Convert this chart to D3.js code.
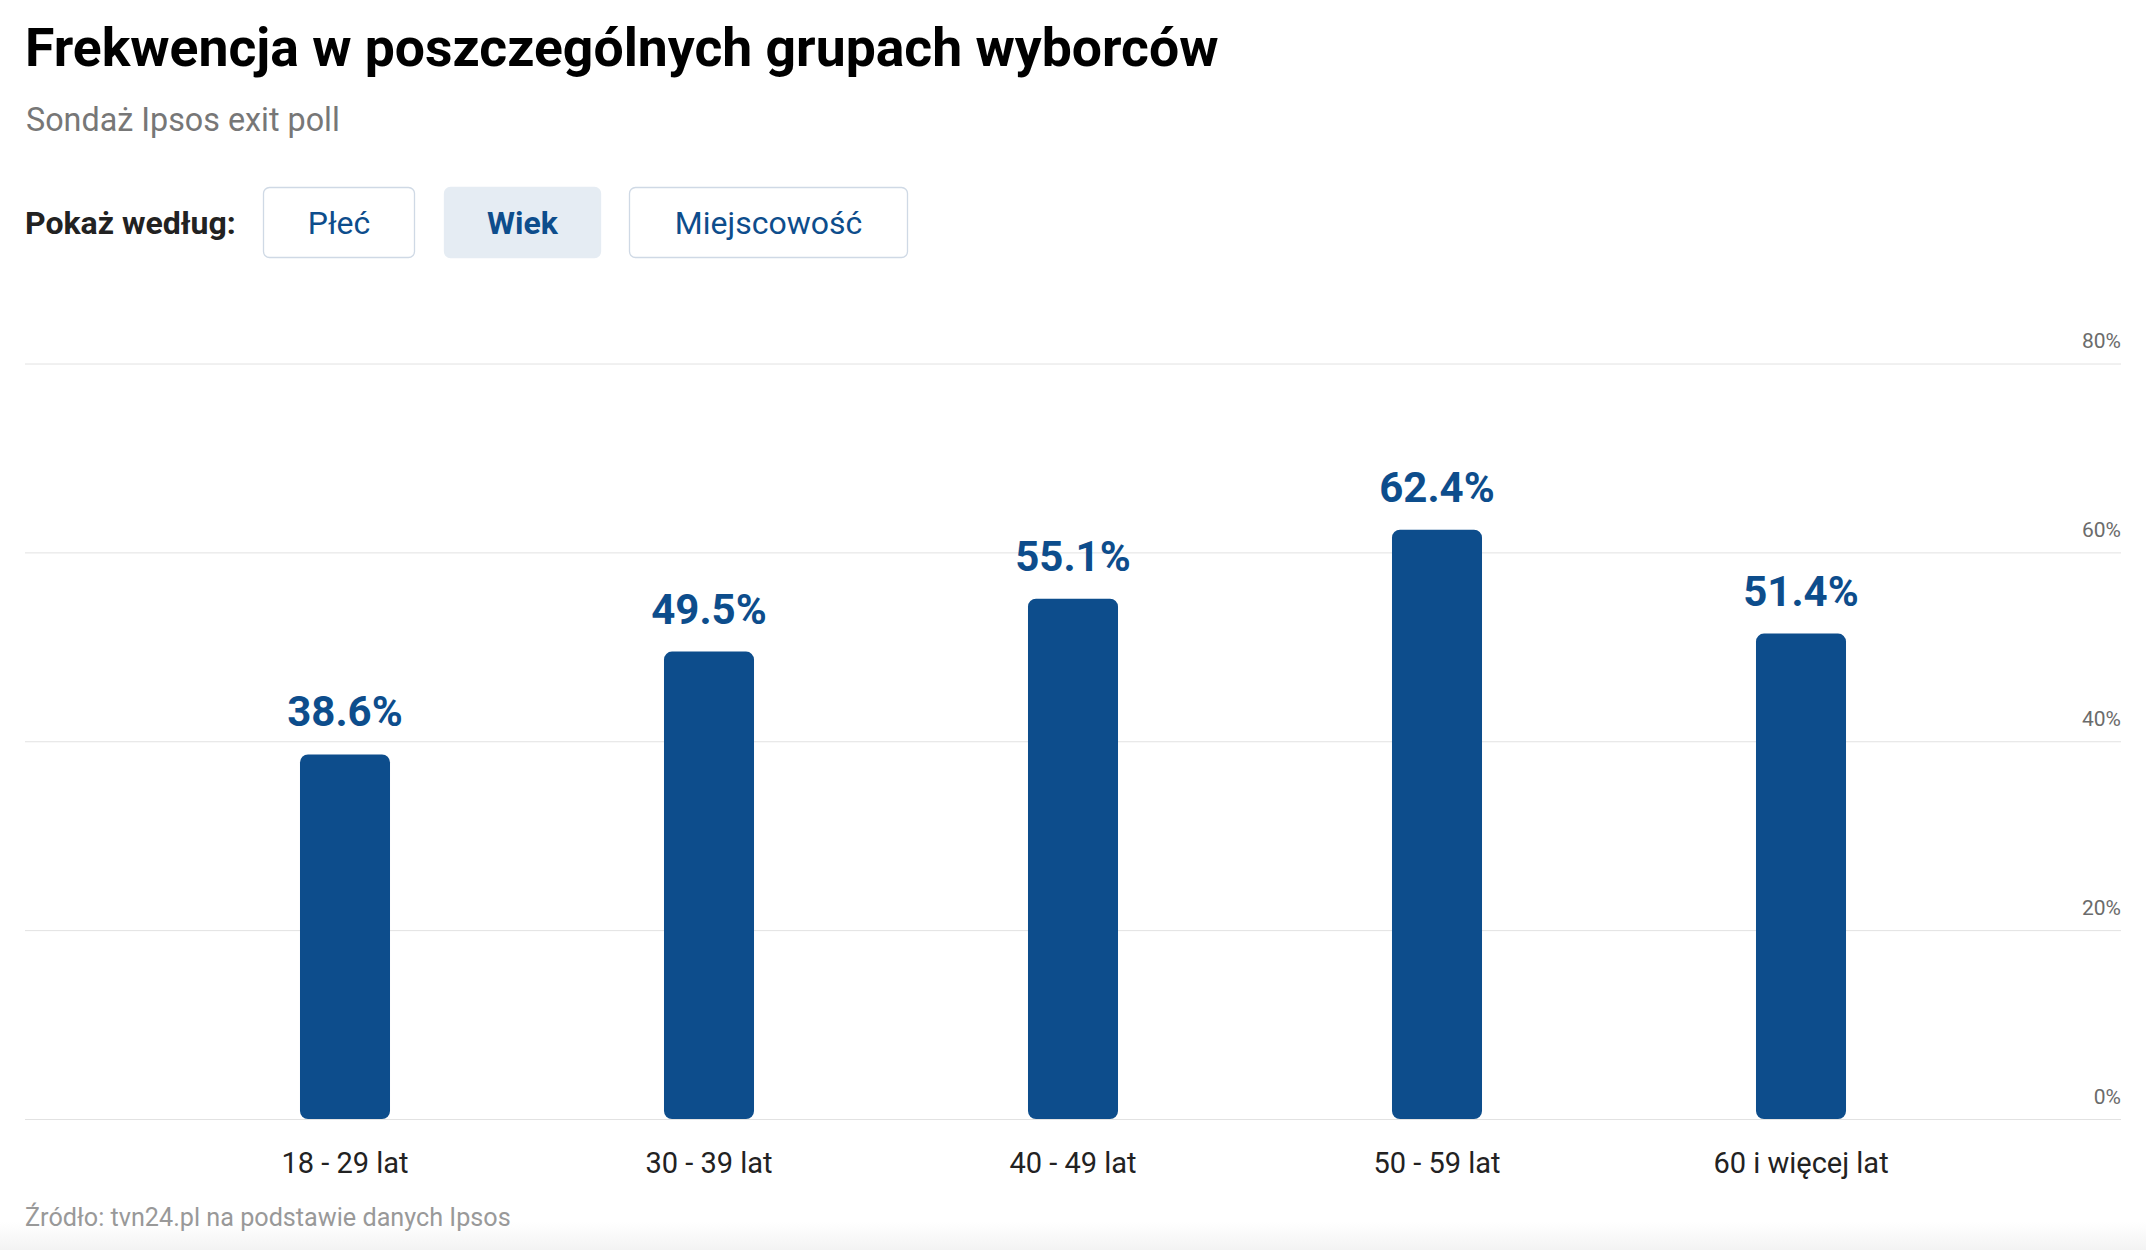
<!DOCTYPE html>
<html>
<head>
<meta charset="utf-8">
<script src="https://cdn.jsdelivr.net/npm/d3@7"></script>
<style>
  html, body { margin: 0; padding: 0; background: #fff; }
  svg { display: block; }
  text { font-family: Roboto, "Noto Sans", sans-serif; }
</style>
</head>
<body>
<script>
const title = "Frekwencja w poszczególnych grupach wyborców";
const subtitle = "Sondaż Ipsos exit poll";
const source = "Źródło: tvn24.pl na podstawie danych Ipsos";
const filterLabel = "Pokaż według:";
const buttons = ["Płeć", "Wiek", "Miejscowość"];
const activeButton = "Wiek";
const categories = ["18 - 29 lat", "30 - 39 lat", "40 - 49 lat", "50 - 59 lat", "60 i więcej lat"];
const values = [38.6, 49.5, 55.1, 62.4, 51.4];
const yTicks = [0, 20, 40, 60, 80];

const W = 2146, H = 1250;
const blue = "#0d4d8c";

const svg = d3.select("body").append("svg").attr("width", W).attr("height", H);

// bottom light gradient
const defs = svg.append("defs");
const grad = defs.append("linearGradient").attr("id", "bottomGrad").attr("x1", 0).attr("y1", 0).attr("x2", 0).attr("y2", 1);
grad.append("stop").attr("offset", "0%").attr("stop-color", "#ffffff");
grad.append("stop").attr("offset", "100%").attr("stop-color", "#f3f3f3");
svg.append("rect").attr("x", 0).attr("y", 1222).attr("width", W).attr("height", H - 1222).attr("fill", "url(#bottomGrad)");

// title & subtitle
svg.append("text").attr("x", 25).attr("y", 66).attr("font-size", 53.5).attr("font-weight", 700).attr("fill", "#000").text(title);
svg.append("text").attr("x", 26).attr("y", 131).attr("font-size", 32.3).attr("fill", "#777").text(subtitle);

// filter buttons
svg.append("text").attr("x", 25).attr("y", 234).attr("font-size", 32).attr("font-weight", 700).attr("fill", "#222").text(filterLabel);
const btnX = [263.5, 444.5, 629.5];
const btnW = [151, 156, 278];
const bg = svg.append("g");
buttons.forEach((b, i) => {
  const active = b === activeButton;
  bg.append("rect").attr("x", btnX[i]).attr("y", 187.5).attr("width", btnW[i]).attr("height", 70)
    .attr("rx", 6).attr("fill", active ? "#e5ecf3" : "#fff")
    .attr("stroke", active ? "#e5ecf3" : "#cfd9e5").attr("stroke-width", 1.3);
  bg.append("text").attr("x", btnX[i] + btnW[i] / 2).attr("y", 234).attr("text-anchor", "middle")
    .attr("font-size", 32).attr("font-weight", active ? 700 : 400).attr("fill", blue).text(b);
});

// scales
const x = d3.scaleBand().domain(categories).range([163, 1983]).paddingInner(0.7527).paddingOuter(0.37635);
const y = d3.scaleLinear().domain([0, 80]).range([1119, 363.5]);

// y grid + labels
const yAxis = d3.axisLeft(y).tickValues(yTicks).tickSize(2096).tickFormat(d => d + "%");
const ga = svg.append("g").attr("transform", "translate(2121,0)").call(yAxis);
ga.select(".domain").remove();
ga.selectAll(".tick line").attr("stroke", "#e2e2e2").attr("stroke-width", 1);
ga.selectAll(".tick text").attr("x", 0).attr("dy", -16).attr("text-anchor", "end")
  .attr("font-size", 21).attr("fill", "#6b6b6b").attr("font-family", "'Open Sans', sans-serif");

// bars
svg.append("g").selectAll("rect").data(values).join("rect")
  .attr("x", (d, i) => x(categories[i]))
  .attr("y", d => y(d))
  .attr("width", x.bandwidth())
  .attr("height", d => y(0) - y(d))
  .attr("rx", 8)
  .attr("fill", blue);

// value labels
svg.append("g").selectAll("text").data(values).join("text")
  .attr("x", (d, i) => x(categories[i]) + x.bandwidth() / 2)
  .attr("y", d => y(d) - 28)
  .attr("text-anchor", "middle")
  .attr("font-size", 42).attr("font-weight", 700).attr("fill", blue)
  .text(d => d.toFixed(1) + "%");

// x labels
const xAxis = d3.axisBottom(x).tickSize(0);
const gx = svg.append("g").attr("transform", "translate(0,1119)").call(xAxis);
gx.select(".domain").remove();
gx.selectAll(".tick text").attr("dy", 0).attr("y", 54).attr("font-size", 29).attr("fill", "#222")
  .attr("font-family", "Roboto, sans-serif");

// source
svg.append("text").attr("x", 25).attr("y", 1226).attr("font-size", 25.2).attr("fill", "#999").text(source);
</script>
</body>
</html>
